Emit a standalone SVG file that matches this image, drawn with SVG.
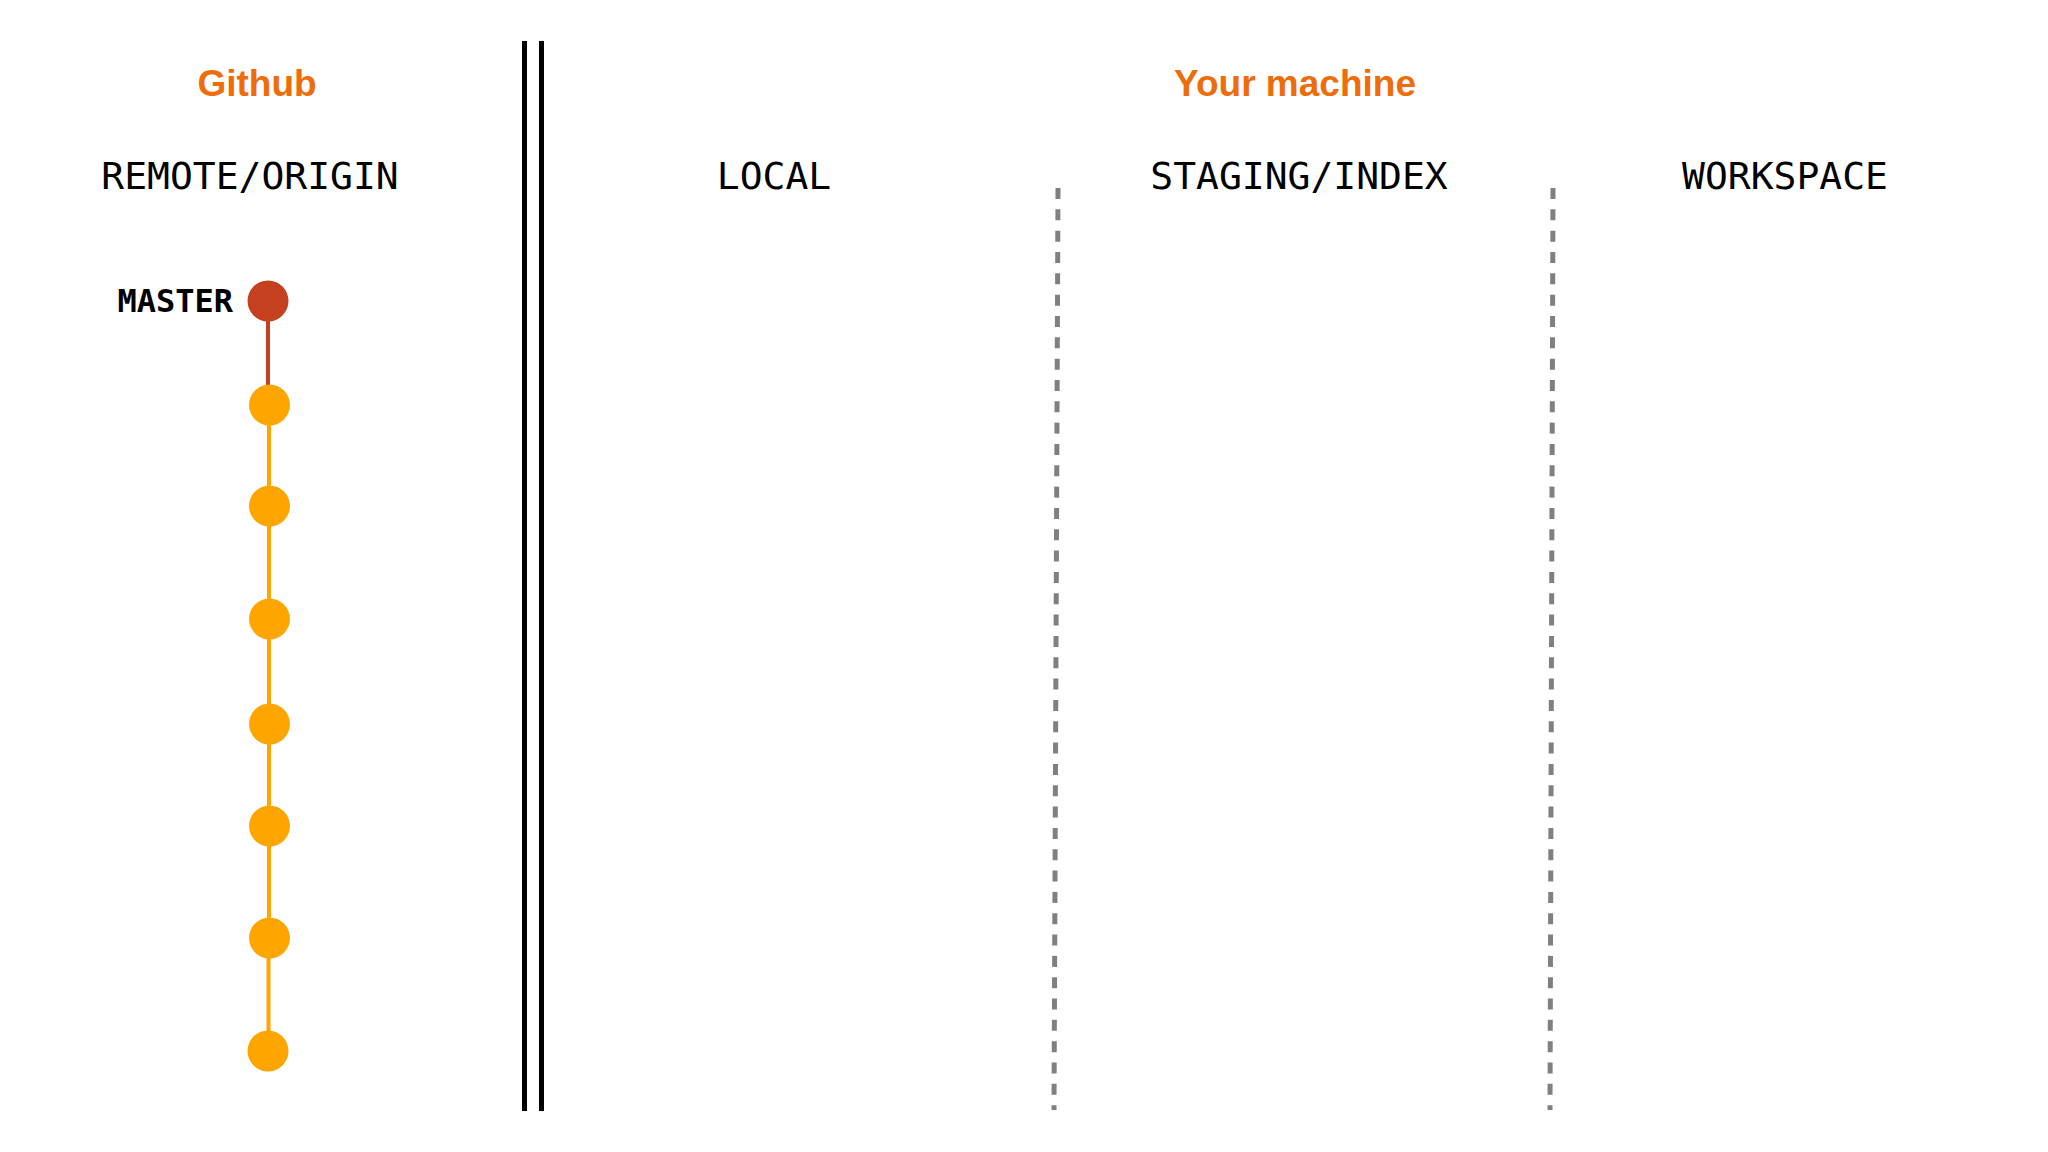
<svg xmlns="http://www.w3.org/2000/svg" width="2048" height="1152" viewBox="0 0 2048 1152">
  <style>
    .title { font-family: "Liberation Sans", Arial, sans-serif; font-weight: bold; font-size: 37px; fill: #EF6C0A; text-anchor: middle; }
    .area { font-family: "DejaVu Sans Mono", "Liberation Mono", monospace; font-size: 38px; fill: #000; text-anchor: middle; }
    .branch { font-family: "DejaVu Sans Mono", "Liberation Mono", monospace; font-weight: bold; font-size: 32px; fill: #000; text-anchor: end; }
    .sep { stroke: #000; stroke-width: 5; }
    .dash { stroke: #808080; stroke-width: 5; stroke-dasharray: 11 10.33; }
    .commit { fill: #FFA500; }
    .head { fill: #C4401F; }
    .link { stroke: #FFA500; stroke-width: 4; }
    .link-head { stroke: #C4401F; stroke-width: 4; }
  </style>
  <rect width="2048" height="1152" fill="#FFFFFF"/>

  <g id="titles">
    <text class="title" x="257" y="96">Github</text>
    <text class="title" x="1295" y="96">Your machine</text>
  </g>

  <g id="area-labels">
    <text class="area" x="250" y="189">REMOTE/ORIGIN</text>
    <text class="area" x="774" y="189">LOCAL</text>
    <text class="area" x="1299" y="189">STAGING/INDEX</text>
    <text class="area" x="1785" y="189">WORKSPACE</text>
  </g>

  <g id="separators">
    <line class="sep" x1="524.5" y1="41" x2="524.5" y2="1111"/>
    <line class="sep" x1="541.5" y1="41" x2="541.5" y2="1111"/>
    <line class="dash" x1="1058" y1="188" x2="1054" y2="1110"/>
    <line class="dash" x1="1553" y1="188" x2="1550" y2="1110"/>
  </g>

  <g id="connectors">
    <line class="link-head" x1="268" y1="321" x2="268" y2="386"/>
    <line class="link" x1="269" y1="405" x2="269" y2="506"/>
    <line class="link" x1="269" y1="506" x2="269" y2="619"/>
    <line class="link" x1="269" y1="619" x2="269" y2="724"/>
    <line class="link" x1="269" y1="724" x2="269" y2="826"/>
    <line class="link" x1="269" y1="826" x2="269" y2="938"/>
    <line class="link" x1="268.5" y1="938" x2="268.5" y2="1051"/>
  </g>

  <g id="master">
    <text class="branch" x="233" y="312">MASTER</text>
    <circle class="head" cx="268" cy="301" r="20.5"/>
  </g>
  <g id="commit-1"><circle class="commit" cx="269.5" cy="405" r="20.5"/></g>
  <g id="commit-2"><circle class="commit" cx="269.5" cy="506" r="20.5"/></g>
  <g id="commit-3"><circle class="commit" cx="269.5" cy="619" r="20.5"/></g>
  <g id="commit-4"><circle class="commit" cx="269.5" cy="724" r="20.5"/></g>
  <g id="commit-5"><circle class="commit" cx="269.5" cy="826" r="20.5"/></g>
  <g id="commit-6"><circle class="commit" cx="269.5" cy="938" r="20.5"/></g>
  <g id="commit-7"><circle class="commit" cx="268" cy="1051" r="20.5"/></g>
</svg>
